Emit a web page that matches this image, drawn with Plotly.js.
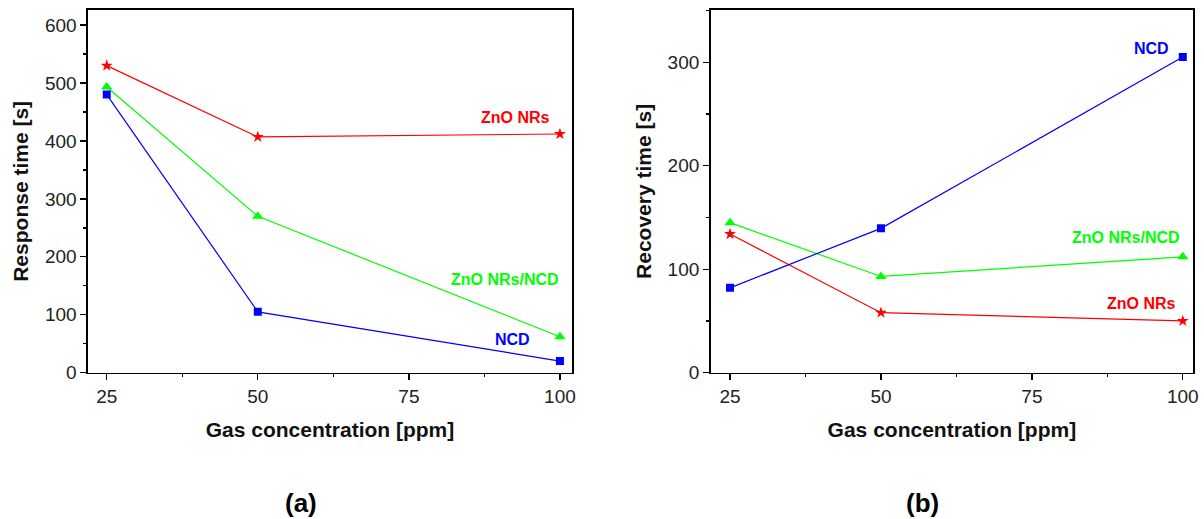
<!DOCTYPE html>
<html>
<head>
<meta charset="utf-8">
<script src="https://cdn.plot.ly/plotly-3.0.1.min.js"></script>
<style>html,body{margin:0;padding:0;background:#fff;}#chart{width:1204px;height:519px;}</style>
</head>
<body>
<div id="chart"></div>
<script>
// Data
const concentration = [25, 50, 100];
const tickValues = [25, 50, 75, 100];
// (a) Response time [s]
const respZnO = [530, 407, 412];
const respZnONCD = [493, 270, 62];
const respNCD = [480, 105, 20];
// (b) Recovery time [s]
const recZnO = [134, 58, 50];
const recZnONCD = [145, 93, 112];
const recNCD = [82, 139.5, 305];

const seriesNames = ['ZnO NRs', 'ZnO NRs/NCD', 'NCD'];
const colors = {'ZnO NRs': '#ff0000', 'ZnO NRs/NCD': '#00ff00', 'NCD': '#0000ff'};
const symbols = {'ZnO NRs': 'star', 'ZnO NRs/NCD': 'triangle-up', 'NCD': 'square'};
const msize = {'ZnO NRs': 9, 'ZnO NRs/NCD': 10, 'NCD': 8};

function tr(name, y, xa, ya) {
  return {
    x: concentration, y: y, xaxis: xa, yaxis: ya, name: name,
    mode: 'lines+markers', type: 'scatter', showlegend: false,
    line: {color: colors[name], width: 1.2},
    marker: {color: colors[name], symbol: symbols[name], size: msize[name], line: {width: 0}}
  };
}

const data = [
  tr('ZnO NRs', respZnO, 'x', 'y'),
  tr('ZnO NRs/NCD', respZnONCD, 'x', 'y'),
  tr('NCD', respNCD, 'x', 'y'),
  tr('ZnO NRs', recZnO, 'x2', 'y2'),
  tr('ZnO NRs/NCD', recZnONCD, 'x2', 'y2'),
  tr('NCD', recNCD, 'x2', 'y2')
];

const tickFont = {family: 'Liberation Sans, Arial, sans-serif', size: 19, color: '#222'};
const titleFont = {family: 'Liberation Sans, Arial, sans-serif', size: 21, color: '#111', weight: 'bold'};

const yDom = [0.2819, 0.9807];
const dom1 = [0.0731, 0.4751];
const dom2 = [0.5903, 0.9909];

function xBottom(dom, range, anchor) {
  return {
    domain: dom, range: range, anchor: anchor, tickvals: tickValues,
    ticks: 'outside', ticklen: 6, tickwidth: 1.3, tickcolor: '#000',
    minor: {ticks: 'outside', ticklen: 3, tickwidth: 1.3, tickcolor: '#000', dtick: 12.5, tick0: 0},
    showline: true, linecolor: '#000', linewidth: 1.6, mirror: true,
    showgrid: false, zeroline: false, tickfont: tickFont,
    title: {text: 'Gas concentration [ppm]', font: titleFont, standoff: 16}
  };
}
function xTop(dom, range, anchor, over) {
  return {
    domain: dom, range: range, anchor: anchor, overlaying: over, side: 'top',
    tickvals: tickValues, ticks: 'inside', ticklen: 6, tickwidth: 1.3, tickcolor: '#000',
    minor: {ticks: 'inside', ticklen: 3, tickwidth: 1.3, tickcolor: '#000', dtick: 12.5, tick0: 0},
    showticklabels: false, showline: false, showgrid: false, zeroline: false
  };
}
function yLeft(range, anchor, title, standoff) {
  return {
    domain: yDom, range: range, anchor: anchor, dtick: 100, tick0: 0,
    ticks: 'outside', ticklen: 6, tickwidth: 1.3, tickcolor: '#000',
    minor: {ticks: 'outside', ticklen: 3, tickwidth: 1.3, tickcolor: '#000', dtick: 50, tick0: 0},
    showline: true, linecolor: '#000', linewidth: 1.6, mirror: true,
    showgrid: false, zeroline: false, tickfont: tickFont,
    title: {text: title, font: titleFont, standoff: standoff}
  };
}

const annFont = (c) => ({family: 'Liberation Sans, Arial, sans-serif', size: 16, color: c, weight: 'bold'});
const labelsA = [
  {text: 'ZnO NRs', x: 92.7, y: 440},
  {text: 'ZnO NRs/NCD', x: 90.9, y: 160},
  {text: 'NCD', x: 92.1, y: 58}
];
const labelsB = [
  {text: 'NCD', x: 94.9, y: 313},
  {text: 'ZnO NRs/NCD', x: 90.6, y: 131},
  {text: 'ZnO NRs', x: 93.1, y: 67}
];
const annotations = [];
labelsA.forEach(l => annotations.push({text: l.text, x: l.x, y: l.y, xref: 'x', yref: 'y', showarrow: false, font: annFont(colors[l.text])}));
labelsB.forEach(l => annotations.push({text: l.text, x: l.x, y: l.y, xref: 'x2', yref: 'y2', showarrow: false, font: annFont(colors[l.text])}));
annotations.push({text: '(a)', x: 0.25, y: 0.031, xref: 'paper', yref: 'paper', xanchor: 'center', yanchor: 'middle', showarrow: false,
  font: {family: 'Liberation Sans, Arial, sans-serif', size: 26, color: '#000', weight: 'bold'}});
annotations.push({text: '(b)', x: 0.766, y: 0.031, xref: 'paper', yref: 'paper', xanchor: 'center', yanchor: 'middle', showarrow: false,
  font: {family: 'Liberation Sans, Arial, sans-serif', size: 26, color: '#000', weight: 'bold'}});

const layout = {
  width: 1204, height: 519,
  margin: {l: 0, r: 0, t: 0, b: 0},
  paper_bgcolor: '#fff', plot_bgcolor: '#fff',
  showlegend: false,
  xaxis: xBottom(dom1, [21.9, 102], 'y'),
  yaxis: yLeft([0, 626], 'x', 'Response time [s]', 10),
  xaxis2: xBottom(dom2, [21.8, 101.7], 'y2'),
  yaxis2: yLeft([0, 350.5], 'x2', 'Recovery time [s]', 10),
  xaxis3: xTop(dom1, [21.9, 102], 'y', 'x'),
  xaxis4: xTop(dom2, [21.8, 101.7], 'y2', 'x2'),
  annotations: annotations
};

Plotly.newPlot('chart', data, layout, {staticPlot: true, displayModeBar: false});
</script>
</body>
</html>
